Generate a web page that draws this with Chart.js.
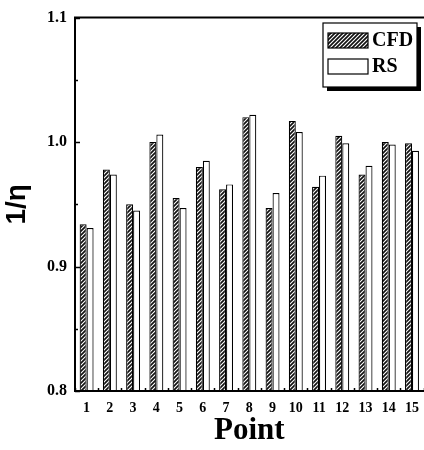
<!DOCTYPE html>
<html>
<head>
<meta charset="utf-8">
<script src="https://cdn.jsdelivr.net/npm/chart.js@4.4.0/dist/chart.umd.min.js"></script>
<style>
  body { margin: 0; background: #fff; overflow: hidden; }
  #wrap { width: 424px; height: 450px; overflow: hidden; }
</style>
</head>
<body>
<div id="wrap"><canvas id="chart-area" width="428" height="450"></canvas></div>
<script>
var points = ['1','2','3','4','5','6','7','8','9','10','11','12','13','14','15'];
var cfd = [0.934, 0.978, 0.950, 1.000, 0.955, 0.980, 0.962, 1.020, 0.947, 1.017, 0.964, 1.005, 0.974, 1.000, 0.999];
var rs  = [0.931, 0.974, 0.945, 1.006, 0.947, 0.985, 0.966, 1.022, 0.959, 1.008, 0.973, 0.999, 0.981, 0.998, 0.993];
var yTicks = [0.8, 0.9, 1.0, 1.1];

// hatch for the CFD bars
function hatch() {
  var c = document.createElement('canvas');
  c.width = 4; c.height = 4;
  var g = c.getContext('2d');
  g.fillStyle = '#fff';
  g.fillRect(0, 0, 4, 4);
  g.strokeStyle = '#111';
  g.lineWidth = 1.7;
  g.beginPath();
  g.moveTo(-1, 5); g.lineTo(5, -1);
  g.moveTo(-1, 1); g.lineTo(1, -1);
  g.moveTo(3, 5); g.lineTo(5, 3);
  g.stroke();
  return g.createPattern(c, 'repeat');
}
var hatchFill = hatch();

var serif = '"Liberation Serif", "Times New Roman", serif';

// frame, inner ticks and the boxed legend
var decor = {
  id: 'decor',
  afterDraw: function(chart) {
    var ctx = chart.ctx, a = chart.chartArea;
    var ys = chart.scales.y, xs = chart.scales.x;
    ctx.save();
    ctx.strokeStyle = '#000';
    ctx.lineWidth = 2;
    ctx.beginPath();
    ctx.moveTo(chart.width, a.top); ctx.lineTo(a.left, a.top);
    ctx.lineTo(a.left, a.bottom); ctx.lineTo(chart.width, a.bottom);
    ctx.stroke();

    ctx.lineWidth = 1.5;
    ctx.beginPath();
    for (var v = 0.8; v <= 1.1001; v += 0.05) {
      var py = Math.round(ys.getPixelForValue(v)) + 0.5;
      var len = (Math.round(v * 100) % 10 === 0) ? 5 : 3;
      ctx.moveTo(a.left, py); ctx.lineTo(a.left + len, py);
    }
    for (var i = 0; i <= points.length; i++) {
      var px = Math.round(xs.getPixelForValue(i - 0.5)) + 0.5;
      ctx.moveTo(px, a.bottom); ctx.lineTo(px, a.bottom - 3);
    }
    ctx.stroke();

    // legend
    var lx = 323, ly = 23, lw = 94, lh = 64;
    ctx.fillStyle = '#000';
    ctx.fillRect(lx + 4, ly + 4, lw, lh);
    ctx.fillStyle = '#fff';
    ctx.fillRect(lx, ly, lw, lh);
    ctx.lineWidth = 1.2;
    ctx.strokeRect(lx, ly, lw, lh);
    var ds = chart.data.datasets;
    for (var k = 0; k < ds.length; k++) {
      var sy = ly + 10 + k * 26;
      ctx.fillStyle = ds[k].backgroundColor;
      ctx.fillRect(lx + 5, sy, 40, 15);
      ctx.strokeRect(lx + 5, sy, 40, 15);
      ctx.fillStyle = '#000';
      ctx.font = 'bold 20px ' + serif;
      ctx.textBaseline = 'middle';
      ctx.fillText(ds[k].label, lx + 49, sy + 8);
    }
    ctx.restore();
  }
};

var config = {
  type: 'bar',
  data: {
    labels: points,
    datasets: [{
      label: 'CFD',
      data: cfd,
      backgroundColor: hatchFill,
      borderColor: '#000',
      borderWidth: 1.2
    }, {
      label: 'RS',
      data: rs,
      backgroundColor: '#fff',
      borderColor: '#000',
      borderWidth: 1.2
    }]
  },
  options: {
    responsive: false,
    animation: false,
    categoryPercentage: 0.6,
    barPercentage: 1.0,
    layout: { padding: { top: 16, right: 0, left: 0, bottom: 0 } },
    plugins: {
      legend: { display: false },
      tooltip: { enabled: false }
    },
    scales: {
      x: {
        grid: { display: false, drawTicks: false },
        border: { display: false },
        ticks: { color: '#000', font: { family: serif, size: 14, weight: 'bold' }, padding: 9, maxRotation: 0, autoSkip: false },
        title: { display: true, text: 'Point', color: '#000', font: { family: serif, size: 31, weight: 'bold' }, padding: { top: 0, bottom: 0 } },
        afterFit: function(s) { s.height = 59; }
      },
      y: {
        min: 0.8,
        max: 1.1,
        afterBuildTicks: function(s) { s.ticks = yTicks.map(function(v) { return { value: v }; }); },
        grid: { display: false, drawTicks: false },
        border: { display: false },
        ticks: {
          color: '#000',
          padding: 8,
          font: { family: serif, size: 16, weight: 'bold' },
          callback: function(v) { return v.toFixed(1); }
        },
        title: { display: true, text: '1/η', color: '#000', font: { family: '"Liberation Sans", Arial, sans-serif', size: 28, weight: 'bold' }, padding: 0 },
        afterFit: function(s) { s.width = 75; }
      }
    }
  },
  plugins: [decor]
};

var ctx = document.getElementById('chart-area').getContext('2d');
window.myBar = new Chart(ctx, config);
</script>
</body>
</html>
